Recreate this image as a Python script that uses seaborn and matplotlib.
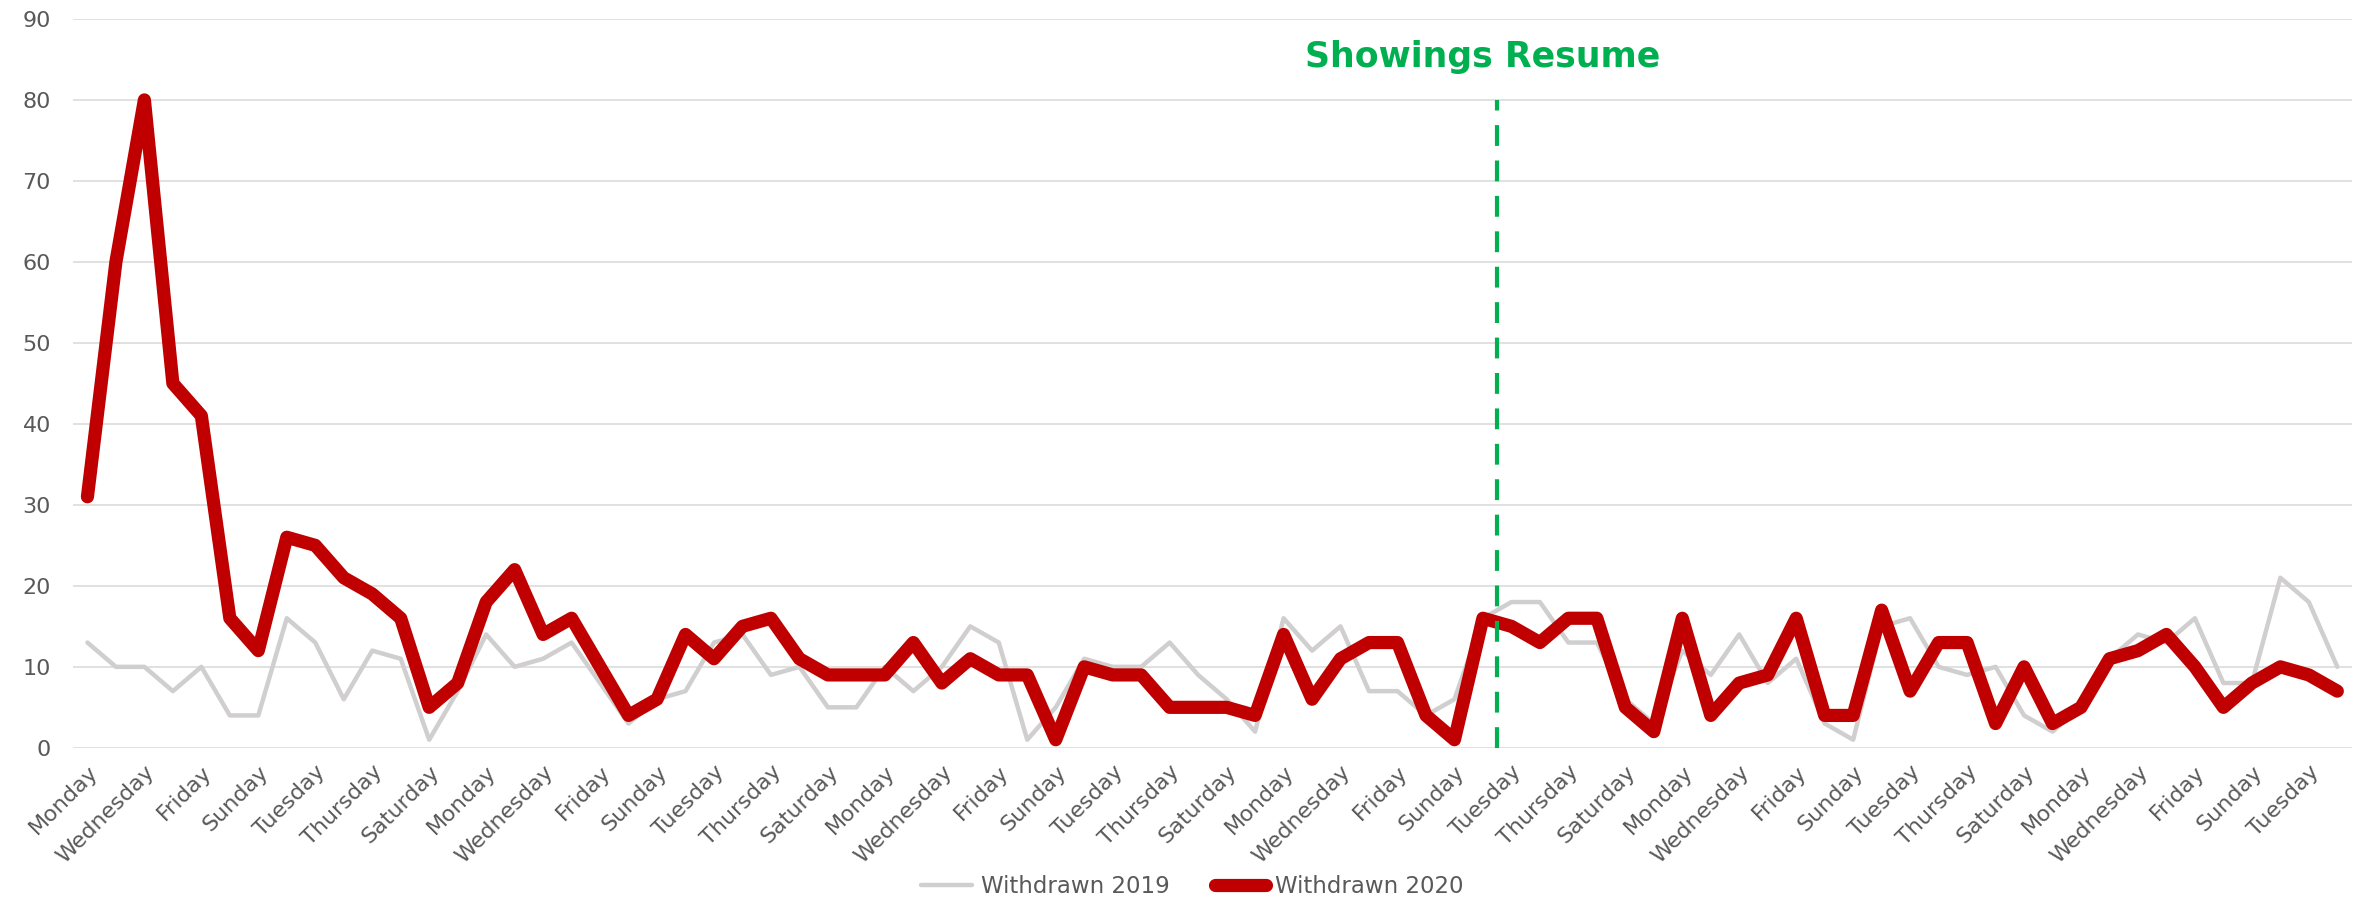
import matplotlib
matplotlib.use("Agg")
import matplotlib.pyplot as plt
import seaborn as sns
import pandas as pd

# Données (un point par jour, du lundi au mercredi)
week = ["Monday", "Tuesday", "Wednesday", "Thursday", "Friday", "Saturday", "Sunday"]
withdrawn_2019 = [13, 10, 10, 7, 10, 4, 4, 16, 13, 6, 12, 11, 1, 7, 14, 10, 11, 13, 8, 3,
                  6, 7, 13, 14, 9, 10, 5, 5, 10, 7, 10, 15, 13, 1, 5, 11, 10, 10, 13, 9,
                  6, 2, 16, 12, 15, 7, 7, 4, 6, 16, 18, 18, 13, 13, 6, 3, 12, 9, 14, 8,
                  11, 3, 1, 15, 16, 10, 9, 10, 4, 2, 5, 11, 14, 13, 16, 8, 8, 21, 18, 10]
withdrawn_2020 = [31, 60, 80, 45, 41, 16, 12, 26, 25, 21, 19, 16, 5, 8, 18, 22, 14, 16, 10, 4,
                  6, 14, 11, 15, 16, 11, 9, 9, 9, 13, 8, 11, 9, 9, 1, 10, 9, 9, 5, 5,
                  5, 4, 14, 6, 11, 13, 13, 4, 1, 16, 15, 13, 16, 16, 5, 2, 16, 4, 8, 9,
                  16, 4, 4, 17, 7, 13, 13, 3, 10, 3, 5, 11, 12, 14, 10, 5, 8, 10, 9, 7]
days = [week[i % 7] for i in range(len(withdrawn_2020))]
resume_pos = 49.5      # position de la ligne "Showings Resume"
resume_top = 80

df = pd.DataFrame({"jour": range(len(days)), "day": days,
                   "w2019": withdrawn_2019, "w2020": withdrawn_2020})

sns.set_style("white")
plt.rcParams["font.family"] = ["DejaVu Sans"]

fig = plt.figure(figsize=(23.61, 9.01), dpi=100)
ax = fig.add_axes([0.031, 0.170, 0.965, 0.809])

# 1. Les deux courbes
sns.lineplot(ax=ax, data=df, x="jour", y="w2019", color="#D0CECE", linewidth=3.2,
             label="Withdrawn 2019", solid_joinstyle="round", solid_capstyle="round")
sns.lineplot(ax=ax, data=df, x="jour", y="w2020", color="#C00000", linewidth=9.5,
             label="Withdrawn 2020", solid_joinstyle="round", solid_capstyle="round")

# 2. Ligne verticale + annotation
ax.axvline(resume_pos, ymin=0, ymax=resume_top / 90, color="#00B050",
           linewidth=3, dashes=(5, 3.5))
ax.text(resume_pos - 0.5, 85.3, "Showings Resume", ha="center", va="center",
        fontsize=25, fontweight="bold", color="#00B050")

# 3. Axes
ax.set_xlim(-0.5, len(days) - 0.5)
ax.set_ylim(0, 90)
ax.set_yticks(range(0, 91, 10))
ax.set_xticks(df["jour"][::2])
ax.set_xticklabels(df["day"][::2], rotation=45, ha="right", rotation_mode="anchor")
ax.tick_params(axis="both", length=0, labelsize=16, labelcolor="#595959")
ax.tick_params(axis="y", pad=16)
ax.tick_params(axis="x", pad=10)
ax.set_xlabel("")
ax.set_ylabel("")

ax.grid(visible=True, which="major", axis="y", color="#D9D9D9", linewidth=1.1)
for s in ["top", "right", "bottom", "left"]:
    ax.spines[s].set_visible(False)

# 4. Légende en bas
ax.legend(loc="center", bbox_to_anchor=(0.505, 0.016), bbox_transform=fig.transFigure,
          ncol=2, frameon=False, fontsize=16.5, labelcolor="#595959",
          handlelength=2.2, handletextpad=0.4, columnspacing=2.0)

plt.savefig("out.png", dpi=100)
